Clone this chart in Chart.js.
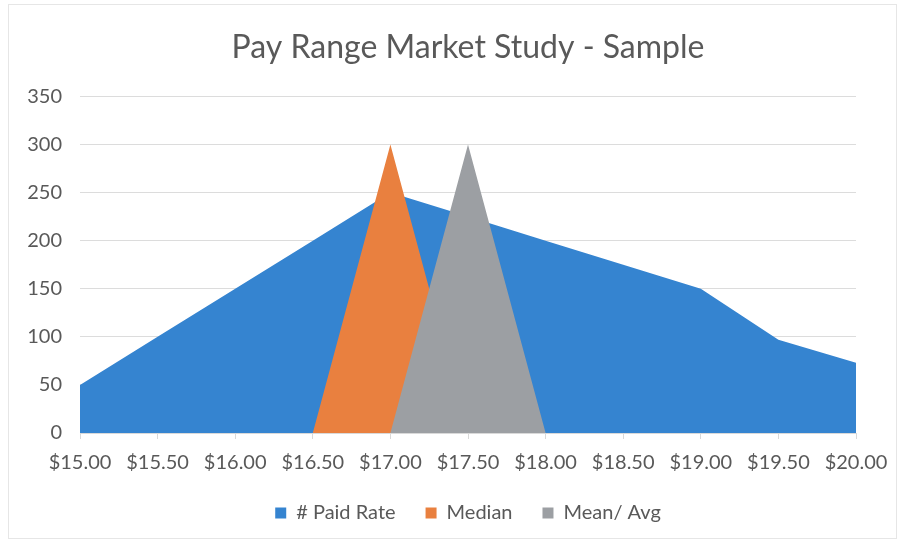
<!DOCTYPE html>
<html>
<head>
<meta charset="utf-8">
<script src="https://cdn.jsdelivr.net/npm/chart.js@4/dist/chart.umd.min.js"></script>
<style>
  html, body { margin: 0; padding: 0; background: #ffffff; }
  #wrap { position: relative; width: 909px; height: 543px; }
  #wrap::after { content: ""; position: absolute; left: 8px; top: 4px; right: 12px; bottom: 4px; border: 1px solid #e6e6e6; pointer-events: none; }
</style>
</head>
<body>
<div id="wrap"><canvas id="c" width="909" height="543"></canvas></div>
<script>
const categories = ["$15.00","$15.50","$16.00","$16.50","$17.00","$17.50","$18.00","$18.50","$19.00","$19.50","$20.00"];
const paidRate   = [50, 100, 150, 200, 250, 225, 200, 175, 150, 97, 73];
const median     = [0, 0, 0, 0, 300, 0, 0, 0, 0, 0, 0];
const meanAvg    = [0, 0, 0, 0, 0, 300, 0, 0, 0, 0, 0];
const yTicks     = [0, 50, 100, 150, 200, 250, 300, 350];

const FONT = "Lato, 'Open Sans', sans-serif";
const TXT = "#595959";

function ds(label, data, color) {
  return { label, data, backgroundColor: color, borderColor: color, borderWidth: 0,
           fill: 'origin', pointRadius: 0, pointHoverRadius: 0, tension: 0 };
}

const legendFix = {
  id: 'legendFix',
  beforeLayout(chart) {
    const lg = chart.legend;
    if (lg && !lg._wrapped) {
      const f = lg.fit.bind(lg);
      lg.fit = function () { f(); this.height = 56; };
      const d = lg.draw.bind(lg);
      lg.draw = function () { const t = this.top; this.top = t - 14; d(); this.top = t; };
      lg._wrapped = true;
    }
  }
};

new Chart(document.getElementById('c'), {
  type: 'line',
  data: {
    labels: categories,
    datasets: [
      ds('Mean/ Avg', meanAvg, '#9C9FA3'),
      ds('Median', median, '#E9803F'),
      ds('# Paid Rate', paidRate, '#3584D0')
    ]
  },
  plugins: [legendFix],
  options: {
    responsive: false,
    animation: false,
    events: [],
    layout: { padding: { left: 20, right: 53, top: 0, bottom: 0 } },
    plugins: {
      title: { display: true, fullSize: false, text: 'Pay Range Market Study - Sample', color: TXT,
               font: { family: FONT, size: 32, weight: 'normal' }, padding: { top: 28, bottom: 30 } },
      legend: { position: 'bottom', fullSize: false, reverse: true,
                labels: { color: TXT, font: { family: FONT, size: 20 }, boxWidth: 11, boxHeight: 11, padding: 30 } },
      tooltip: { enabled: false }
    },
    scales: {
      x: {
        offset: false,
        grid: { display: true, drawOnChartArea: false, drawTicks: true, tickLength: 6, color: '#d9d9d9' },
        border: { display: true, color: '#d9d9d9' },
        ticks: { color: TXT, font: { family: FONT, size: 20 }, maxRotation: 0, autoSkip: false, padding: 12 }
      },
      y: {
        min: 0, max: 350,
        afterBuildTicks: (s) => { s.ticks = yTicks.map(v => ({ value: v })); },
        grid: { color: '#dcdcdc', drawTicks: false },
        border: { display: false },
        ticks: { color: TXT, font: { family: FONT, size: 20 }, padding: 18 },
        afterFit: (s) => { s.width = 60; }
      }
    }
  }
});
</script>
</body>
</html>
